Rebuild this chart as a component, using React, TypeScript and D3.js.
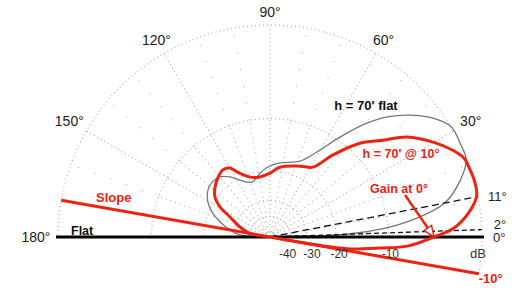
import React from 'react';
import * as d3 from 'd3';

// ---- data ----
const ringDb = [-40, -30, -20, -10, 0];
const scaleLabels = ['-40', '-30', '-20', '-10'];
const angleTicks = [30, 60, 90, 120, 150, 180];
const angleLabels = ['30°', '60°', '90°', '120°', '150°', '180°'];

// h = 70' flat (gray)
const flatAngles = [0, 1.3, 2.2, 4.1, 7.1, 11, 16.7, 21.4, 26, 31.4, 36.1, 41.1, 45.7, 49.6, 55, 61.1, 68.5, 82.3, 91.6, 98.9, 108.1, 117.8, 123.7, 129.8, 136.5, 142.8, 150.6, 156.7, 163.3, 170, 176, 180];
const flatDb = [-60, -26.6, -17.1, -10.9, -6.4, -3.0, -1.1, -0.1, 0, 0, -0.85, -2.3, -4.0, -6.0, -9.5, -13.4, -16.4, -17.9, -19.0, -20.4, -22.3, -20.5, -18.5, -17.1, -16.8, -17.2, -18.7, -20.8, -24.1, -28.4, -33.5, -60];

// h = 70' @ 10° (red)
const slopeAngles = [-10, -9.6, -9.3, -8.5, -5.7, -3.8, 0, 2.8, 6.9, 11.3, 15.4, 19.5, 22.1, 25.4, 30.2, 36.1, 40.6, 46.2, 52.5, 58.4, 67.1, 81.9, 90, 99.5, 108.4, 116.9, 120.1, 125.1, 130.9, 137.7, 144, 149, 153.4, 161.6, 170, 170];
const slopeDb = [-60, -28, -21.5, -16.5, -11.1, -7.4, -4.4, -2.4, -1.0, -0.1, 0, -0.1, -0.2, -0.8, -2.0, -3.8, -6.1, -8.4, -12.3, -16.3, -17.4, -18.9, -20.6, -21.4, -20.8, -18.3, -16.8, -16.3, -16.9, -18.0, -19.5, -22.2, -26.7, -32.7, -40, -60];

const slopeDeg = -10;
const rayAngles = [11, 2];
const rayLabels = ['11°', '2°'];

// ---- geometry ----
const W = 530, H = 292;
const CX = 270, CY = 237, R = 212;
const RED = '#ee2211';
const GRID = '#aaa';
const rScale = (db: number) => R * Math.pow(0.89, -db / 2);
const rad = (deg: number) => (deg * Math.PI) / 180;
const pt = (deg: number, r: number): [number, number] => [CX + r * Math.cos(rad(deg)), CY - r * Math.sin(rad(deg))];

const patternLine = d3
  .lineRadial<[number, number]>()
  .angle((d) => Math.PI / 2 - rad(d[0]))
  .radius((d) => rScale(d[1]))
  .curve(d3.curveCatmullRom.alpha(0.5));

const arcLine = d3
  .lineRadial<number>()
  .angle((d) => Math.PI / 2 - rad(d));

export default function App() {
  const flatPts = flatAngles.map((a, i) => [a, flatDb[i]] as [number, number]);
  const slopePts = slopeAngles.map((a, i) => [a, slopeDb[i]] as [number, number]);
  const semi = d3.range(0, 180.01, 1);
  const spokes = d3.range(10, 180, 10);
  const r10 = rScale(-10);
  const font = "'Liberation Sans', Arial, Helvetica, sans-serif";
  const labelDx = [-3, 5, 3, 2];

  // gain at 0° from the red pattern
  const gain0 = slopeDb[slopeAngles.indexOf(0)];
  const tip = pt(0, rScale(gain0));
  const start: [number, number] = [tip[0] - 29, tip[1] - 42];
  const len = Math.hypot(tip[0] - start[0], tip[1] - start[1]);
  const ux = (tip[0] - start[0]) / len, uy = (tip[1] - start[1]) / len;
  const back: [number, number] = [tip[0] - ux * 11, tip[1] - uy * 11];
  const head = [tip, [back[0] - uy * 4.5, back[1] + ux * 4.5], [back[0] + uy * 4.5, back[1] - ux * 4.5]];

  const slopeL = pt(180 + slopeDeg, R);
  const slopeR = pt(slopeDeg, R);

  return (
    <svg width={W} height={H} style={{ position: 'absolute', left: 0, top: 0, background: '#fff' }} fontFamily={font}>
      {/* rings */}
      <g transform={`translate(${CX},${CY})`} fill="none" stroke={GRID} strokeWidth={1.1} strokeDasharray="1 3">
        {ringDb.map((db) => (
          <path key={db} d={arcLine.radius(rScale(db))(db === 0 ? d3.range(-10, 180.01, 1) : semi) || ''} />
        ))}
      </g>
      {/* spokes */}
      <g stroke={GRID} strokeWidth={1.1} fill="none">
        {spokes.map((a) => {
          const p0 = pt(a, 0), p1 = pt(a, r10), p2 = pt(a, R);
          const major = a % 30 === 0;
          return (
            <g key={a}>
              <line x1={p0[0]} y1={p0[1]} x2={p1[0]} y2={p1[1]} strokeDasharray={major ? '1 3' : '1 4'} />
              <line x1={p1[0]} y1={p1[1]} x2={p2[0]} y2={p2[1]} strokeDasharray={major ? '1 3' : '1 16'} />
            </g>
          );
        })}
      </g>

      {/* gray flat-ground pattern */}
      <path transform={`translate(${CX},${CY})`} d={patternLine(flatPts) || ''} fill="none" stroke="#777" strokeWidth={1.3} />

      {/* elevation rays */}
      {rayAngles.map((a, i) => {
        const e = pt(a, R);
        return (
          <line key={a} x1={CX} y1={CY} x2={e[0]} y2={e[1]} stroke="#111" strokeWidth={1.3} strokeDasharray={i === 0 ? '7 4' : '5 3'} />
        );
      })}

      {/* flat ground */}
      <line x1={CX - R - 2} y1={CY} x2={CX + R + 2} y2={CY} stroke="#000" strokeWidth={3} />
      {/* sloped ground */}
      <line x1={slopeL[0]} y1={slopeL[1]} x2={slopeR[0]} y2={slopeR[1]} stroke={RED} strokeWidth={3} />

      {/* red sloped pattern */}
      <path transform={`translate(${CX},${CY})`} d={patternLine(slopePts) || ''} fill="none" stroke={RED} strokeWidth={3} strokeLinejoin="round" />

      {/* arrow */}
      <line x1={start[0]} y1={start[1]} x2={back[0]} y2={back[1]} stroke={RED} strokeWidth={2.5} />
      <polygon points={head.map((p) => p.join(',')).join(' ')} fill="#fff" stroke={RED} strokeWidth={1.5} />

      {/* angle labels */}
      {angleTicks.map((a, i) => {
        const c = Math.cos(rad(a));
        const p = pt(a, R + 13 + 9 * c * c);
        return (
          <text key={a} x={p[0]} y={p[1]} textAnchor="middle" dominantBaseline="central" fontSize={14} fill="#222">
            {angleLabels[i]}
          </text>
        );
      })}
      <text x={CX + R + 11} y={CY + 5} fontSize={13} fill="#222">0°</text>
      {rayAngles.map((a, i) => {
        const e = pt(a, R);
        return (
          <text key={a} x={e[0] + (i === 0 ? 10 : 12)} y={e[1] + (i === 0 ? 4 : -1)} fontSize={13} fill="#222">
            {rayLabels[i]}
          </text>
        );
      })}
      <text x={slopeR[0]} y={slopeR[1] + 9} fontSize={13} fill={RED} fontWeight="bold">-10°</text>

      {/* dB scale labels */}
      {scaleLabels.map((t, i) => (
        <text key={t} x={CX + rScale(ringDb[i]) + labelDx[i]} y={CY + 21} textAnchor="middle" fontSize={12} fill="#333">
          {t}
        </text>
      ))}
      <text x={CX + R - 4} y={CY + 21} textAnchor="middle" fontSize={13} fill="#333">dB</text>

      {/* annotations */}
      <text x={366} y={110} textAnchor="middle" fontSize={13} fontWeight="bold" fill="#111">h = 70' flat</text>
      <text x={401} y={158} textAnchor="middle" fontSize={12.5} fontWeight="bold" fill={RED}>h = 70' @ 10°</text>
      <text x={399} y={193} textAnchor="middle" fontSize={12.5} fontWeight="bold" fill={RED}>Gain at 0°</text>
      <text x={96} y={202} fontSize={13} fontWeight="bold" fill={RED}>Slope</text>
      <text x={71} y={235} fontSize={12.5} fontWeight="bold" fill="#111">Flat</text>
    </svg>
  );
}
